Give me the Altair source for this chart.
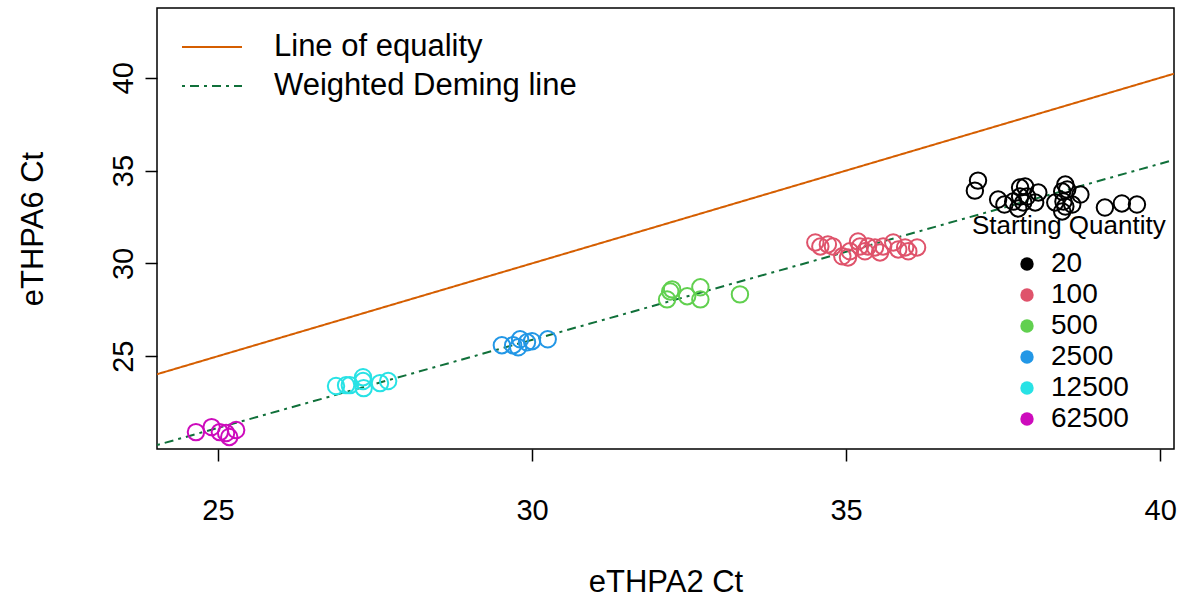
import altair as alt
import pandas as pd

# ---- data ----
groups = ["20", "100", "500", "2500", "12500", "62500"]
colors = ["#000000", "#DF536B", "#61D04F", "#2297E6", "#28E2E5", "#CD0BBC"]

x20 = [37.10, 37.05, 37.42, 37.52, 37.66, 37.77, 37.85, 37.77, 37.88, 37.82, 38.06, 38.01,
       38.33, 38.44, 38.49, 38.52, 38.73, 38.46, 38.49, 38.60, 39.12, 39.39, 39.63, 38.44, 37.74]
y20 = [34.46, 33.92, 33.44, 33.17, 33.33, 34.09, 34.14, 33.60, 33.60, 33.28, 33.82, 33.28,
       33.28, 33.87, 34.25, 33.98, 33.71, 33.33, 33.06, 33.17, 33.01, 33.23, 33.17, 32.80, 32.96]
x100 = [34.59, 34.71, 34.79, 34.94, 35.03, 35.06, 35.19, 35.22, 35.30, 35.35, 35.46, 35.59,
        35.75, 35.83, 35.94, 35.99, 36.13, 35.54, 34.51]
y100 = [30.91, 31.02, 30.91, 30.38, 30.32, 30.65, 31.18, 30.91, 30.65, 30.91, 30.86, 30.91,
        31.13, 30.75, 30.86, 30.65, 30.86, 30.59, 31.13]
x500 = [32.15, 32.20, 32.23, 32.47, 32.68, 32.68, 33.31]
y500 = [28.06, 28.49, 28.60, 28.23, 28.06, 28.71, 28.33]
x2500 = [29.52, 29.70, 29.78, 29.81, 29.92, 30.00, 30.25]
y2500 = [25.59, 25.59, 25.48, 25.91, 25.75, 25.81, 25.91]
x12500 = [26.88, 27.04, 27.10, 27.31, 27.31, 27.32, 27.58, 27.71]
y12500 = [23.39, 23.44, 23.44, 23.87, 23.66, 23.28, 23.55, 23.66]
x62500 = [24.65, 24.90, 25.03, 25.13, 25.18, 25.29]
y62500 = [20.91, 21.18, 20.91, 20.86, 20.65, 21.02]

xs = [x20, x100, x500, x2500, x12500, x62500]
ys = [y20, y100, y500, y2500, y12500, y62500]

x_ticks = [25, 30, 35, 40]
y_ticks = [25, 30, 35, 40]
x_domain = [24.03, 40.22]
y_domain = [20.0, 43.76]

line_names = ["Line of equality", "Weighted Deming line"]
line_colors = ["#D55E00", "#10703A"]
line_intercepts = [0.0, -2.59]
line_slopes = [1.0, 0.949]

# ---- tables ----
rows = []
for g, xv, yv in zip(groups, xs, ys):
    for a, b in zip(xv, yv):
        rows.append({"x": a, "y": b, "q": g})
pts = pd.DataFrame(rows)

lrows = []
for n, a, b in zip(line_names, line_intercepts, line_slopes):
    for xe in x_domain:
        lrows.append({"x": xe, "y": a + b * xe, "line": n})
lines = pd.DataFrame(lrows)

FONT = "Liberation Sans"

xenc = alt.X("x:Q", scale=alt.Scale(domain=x_domain, nice=False, zero=False),
             axis=alt.Axis(values=x_ticks, title="eTHPA2 Ct", titleY=142,
                           titleBaseline="alphabetic", labelBaseline="alphabetic",
                           labelPadding=58))
yenc = alt.Y("y:Q", scale=alt.Scale(domain=y_domain, nice=False, zero=False),
             axis=alt.Axis(values=y_ticks, title="eTHPA6 Ct", titleX=-115, titleAngle=270,
                           titleBaseline="alphabetic", labelAngle=270, labelAlign="center",
                           labelBaseline="alphabetic", labelPadding=13))

line_legend = alt.Legend(title=None, orient="none", legendX=39, legendY=23,
                         symbolType="M-2,0H2", symbolSize=900,
                         symbolStrokeWidth=2, labelFontSize=31, labelLimit=600,
                         labelOffset=46, rowPadding=8, labelFont=FONT,
                         labelColor="black")

line_layer = alt.Chart(lines).mark_line(strokeWidth=2, clip=True).encode(
    x=xenc, y=yenc,
    color=alt.Color("line:N", scale=alt.Scale(domain=line_names, range=line_colors),
                    legend=line_legend),
    strokeDash=alt.StrokeDash("line:N", scale=alt.Scale(domain=line_names,
                                                        range=[[1, 0], [3, 5, 9, 5]]),
                              legend=line_legend),
    detail="line:N",
)

point_layer = alt.Chart(pts).mark_point(filled=False, shape="circle", size=270,
                                        strokeWidth=2, opacity=1).encode(
    x=xenc, y=yenc,
    color=alt.Color("q:N", scale=alt.Scale(domain=groups, range=colors), legend=None),
)

legend_layer = alt.Chart(pts).transform_filter("false").mark_circle(size=180, opacity=1).encode(
    x=xenc, y=yenc,
    color=alt.Color("q:N", scale=alt.Scale(domain=groups, range=colors),
                    legend=alt.Legend(title="Starting Quantity", orient="none",
                                      legendX=815, legendY=205, titleFontSize=26,
                                      titleFontWeight="normal", titleFont=FONT,
                                      titleColor="black", titleLimit=600,
                                      labelFontSize=28, labelLimit=300,
                                      labelFont=FONT, labelColor="black",
                                      symbolSize=180, symbolOffset=41, labelOffset=10,
                                      rowPadding=3, titlePadding=11, symbolStrokeWidth=0)),
)

chart = alt.layer(line_layer, point_layer, legend_layer).resolve_scale(
    color="independent", strokeDash="independent"
).properties(
    width=1017, height=441,
    autosize=alt.AutoSizeParams(type="none"),
    padding={"left": 157, "top": 8, "right": 11, "bottom": 153},
    background="white",
).configure_view(
    stroke="black", strokeWidth=1.5
).configure_axis(
    grid=False, domain=False, tickColor="black", tickSize=12, tickWidth=1.5,
    labelFont=FONT, labelFontSize=29, labelColor="black",
    titleFont=FONT, titleFontSize=31, titleColor="black", titleFontWeight="normal",
)

chart.save("out.html", embed_options={"renderer": "svg", "actions": False})
